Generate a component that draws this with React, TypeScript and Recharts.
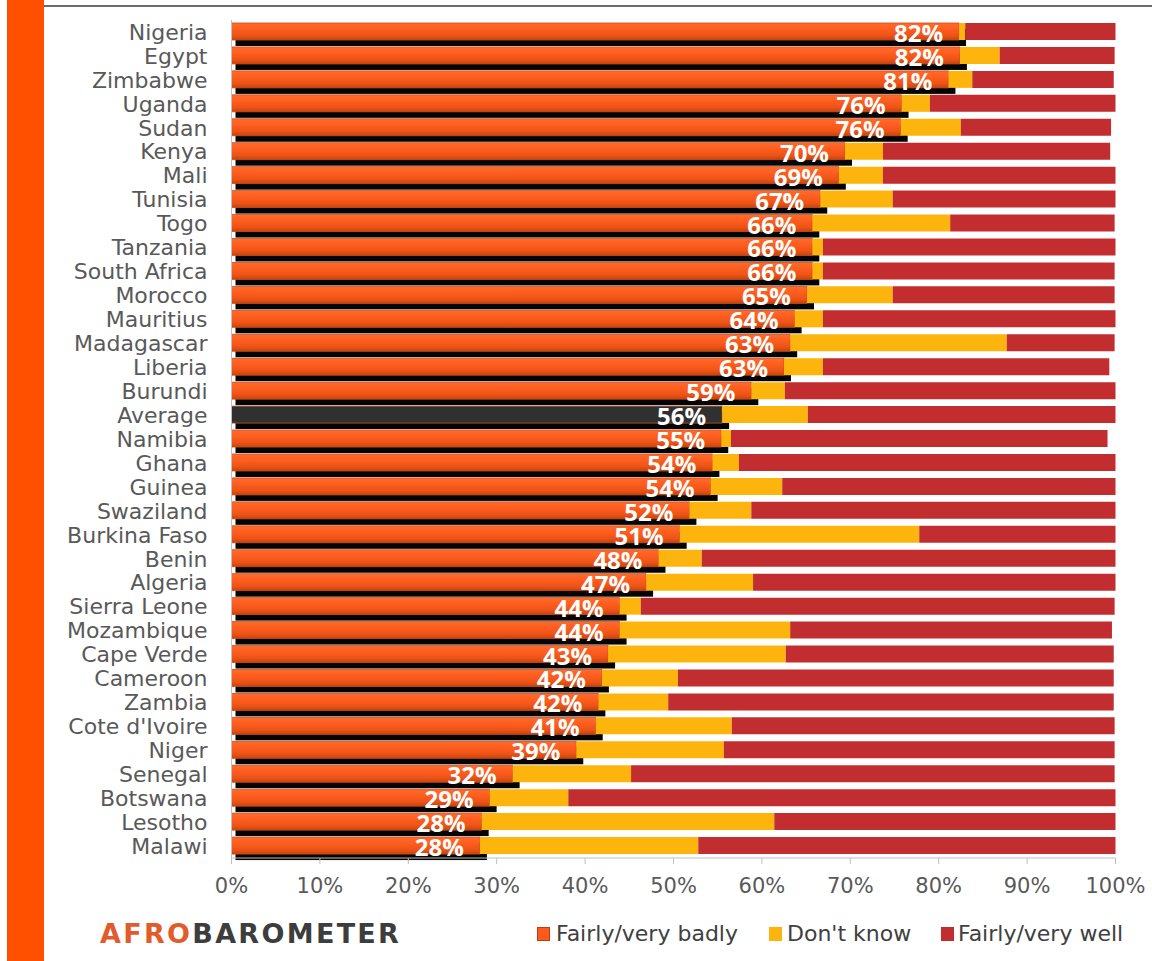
import React from 'react';
import { BarChart, Bar, XAxis, YAxis, LabelList } from 'recharts';

const countries = [
  'Nigeria', 'Egypt', 'Zimbabwe', 'Uganda', 'Sudan', 'Kenya', 'Mali', 'Tunisia', 'Togo',
  'Tanzania', 'South Africa', 'Morocco', 'Mauritius', 'Madagascar', 'Liberia', 'Burundi',
  'Average', 'Namibia', 'Ghana', 'Guinea', 'Swaziland', 'Burkina Faso', 'Benin', 'Algeria',
  'Sierra Leone', 'Mozambique', 'Cape Verde', 'Cameroon', 'Zambia', "Cote d'Ivoire", 'Niger',
  'Senegal', 'Botswana', 'Lesotho', 'Malawi',
];

const badly = [
  82.3, 82.4, 81.1, 75.8, 75.7, 69.4, 68.7, 66.6, 65.7, 65.7, 65.7, 65.1, 63.7, 63.2, 62.5, 58.8,
  55.5, 55.4, 54.4, 54.2, 51.8, 50.7, 48.3, 46.9, 43.9, 43.9, 42.6, 41.9, 41.5, 41.2, 39.0,
  31.8, 29.2, 28.3, 28.1,
];

const badlyLabels = [
  82, 82, 81, 76, 76, 70, 69, 67, 66, 66, 66, 65, 64, 63, 63, 59,
  56, 55, 54, 54, 52, 51, 48, 47, 44, 44, 43, 42, 42, 41, 39,
  32, 29, 28, 28,
];

const dontKnow = [
  0.7, 4.5, 2.7, 3.2, 6.8, 4.3, 5.0, 8.2, 15.6, 1.2, 1.2, 9.7, 3.2, 24.5, 4.4, 3.8,
  9.7, 1.1, 3.0, 8.1, 7.0, 27.1, 4.9, 12.1, 2.4, 19.3, 20.1, 8.6, 7.9, 15.4, 16.7,
  13.4, 8.9, 33.1, 24.7,
];

const well = [
  17.0, 13.0, 16.0, 21.0, 17.0, 25.7, 26.3, 25.2, 18.6, 33.1, 33.0, 25.1, 33.1, 12.2, 32.4, 37.4,
  34.8, 42.6, 42.6, 37.7, 41.2, 22.2, 46.8, 41.0, 53.6, 36.4, 37.1, 49.3, 50.4, 43.3, 44.2,
  54.7, 61.9, 38.6, 47.2,
];

const xTicks = [0, 10, 20, 30, 40, 50, 60, 70, 80, 90, 100];

const data = countries.map((country, i) => ({
  country,
  badly: badly[i],
  badlyLabel: badlyLabels[i],
  dontKnow: dontKnow[i],
  well: well[i],
}));

const ORANGE = '#ff5a1c';
const YELLOW = '#fdb50d';
const RED = '#c22d2f';
const AXIS_GRAY = '#bfbfbf';
const TEXT_GRAY = '#595959';

// orange bar with the black "3d" shadow below it
const BadlyShape = (props: any) => {
  const { x, y, width, height, payload } = props;
  const avg = payload && payload.country === 'Average';
  return (
    <g>
      <rect x={x + 4} y={y + 6} width={width + 3} height={height} fill="#050505" />
      <rect
        x={x}
        y={y}
        width={width}
        height={height}
        fill={avg ? '#303030' : 'url(#badlyGrad)'}
        stroke={avg ? '#b85426' : '#c9501c'}
        strokeWidth={0.8}
      />
    </g>
  );
};

const renderBadlyLabel = (props: any) => {
  const vb = props.viewBox || {};
  const x = props.x ?? vb.x;
  const y = props.y ?? vb.y;
  const width = props.width ?? vb.width;
  const height = props.height ?? vb.height;
  return (
    <text
      x={x + width - 16}
      y={y + height / 2 + 10.5}
      textAnchor="end"
      fill="#ffffff"
      fontFamily="'Open Sans', sans-serif"
      fontWeight={700}
      fontSize={24}
    >
      {props.value}%
    </text>
  );
};

const legendItems = [
  { name: 'Fairly/very badly', color: ORANGE, box: 537, text: 556 },
  { name: "Don't know", color: YELLOW, box: 769, text: 787 },
  { name: 'Fairly/very well', color: RED, box: 941, text: 958 },
];

export default function App() {
  return (
    <div
      style={{
        position: 'absolute',
        left: 0,
        top: 0,
        width: 1152,
        height: 961,
        background: '#ffffff',
        overflow: 'hidden',
      }}
    >
      <div style={{ position: 'absolute', left: 7, top: 0, width: 37, height: 961, background: '#ff5000' }} />
      <div style={{ position: 'absolute', left: 44, top: 5, width: 1108, height: 2, background: '#6b6b6b' }} />

      <div style={{ position: 'absolute', left: 0, top: 0 }}>
        <BarChart
          width={1152}
          height={961}
          data={data}
          layout="vertical"
          margin={{ top: 20, right: 36.5, bottom: 63, left: 0 }}
          barSize={17}
        >
          <defs>
            <linearGradient id="badlyGrad" x1="0" y1="0" x2="0" y2="1">
              <stop offset="0%" stopColor="#ff6b2c" />
              <stop offset="35%" stopColor="#ff5e20" />
              <stop offset="75%" stopColor="#ec5316" />
              <stop offset="100%" stopColor="#c8430c" />
            </linearGradient>
          </defs>
          <XAxis
            type="number"
            domain={[0, 100]}
            ticks={xTicks}
            tickFormatter={(v: number) => `${v}%`}
            height={40}
            tickSize={6}
            tickMargin={14}
            axisLine={{ stroke: AXIS_GRAY }}
            tickLine={{ stroke: AXIS_GRAY }}
            tick={{ fill: TEXT_GRAY, fontSize: 21, fontFamily: "'DejaVu Sans', sans-serif" }}
          />
          <YAxis
            type="category"
            dataKey="country"
            width={231.5}
            interval={0}
            tickSize={0}
            tickMargin={24}
            tickLine={false}
            axisLine={{ stroke: AXIS_GRAY }}
            tick={{ fill: TEXT_GRAY, fontSize: 22, fontFamily: "'DejaVu Sans', sans-serif" }}
          />
          <Bar dataKey="badly" stackId="a" shape={BadlyShape} isAnimationActive={false}>
            <LabelList dataKey="badlyLabel" content={renderBadlyLabel} />
          </Bar>
          <Bar dataKey="dontKnow" stackId="a" fill={YELLOW} isAnimationActive={false} />
          <Bar dataKey="well" stackId="a" fill={RED} isAnimationActive={false} />
        </BarChart>
      </div>

      <svg style={{ position: 'absolute', left: 0, top: 900 }} width={520} height={60}>
        <text
          x={100}
          y={43}
          fontFamily="'DejaVu Sans', sans-serif"
          fontWeight={700}
          fontSize={27}
          letterSpacing={2.3}
        >
          <tspan fill="#e25b2a">AFRO</tspan>
          <tspan fill="#3d3d3d">BAROMETER</tspan>
        </text>
      </svg>

      {legendItems.map((item) => (
        <React.Fragment key={item.name}>
          <div
            style={{
              position: 'absolute',
              left: item.box,
              top: 927,
              width: 13,
              height: 14,
              background: item.color,
              boxSizing: 'border-box',
              border: item.color === ORANGE ? '1px solid #b8400c' : 'none',
            }}
          />
          <div
            style={{
              position: 'absolute',
              left: item.text,
              top: 920,
              height: 28,
              lineHeight: '28px',
              fontSize: 22,
              fontFamily: "'DejaVu Sans', sans-serif",
              color: '#404040',
              whiteSpace: 'nowrap',
            }}
          >
            {item.name}
          </div>
        </React.Fragment>
      ))}
    </div>
  );
}
